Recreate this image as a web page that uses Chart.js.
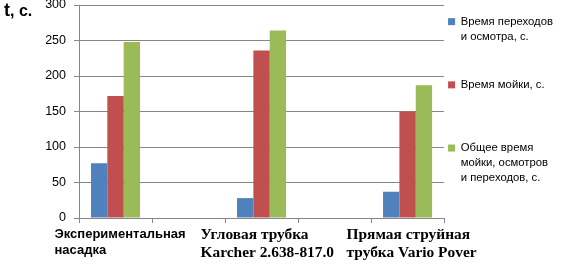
<!DOCTYPE html>
<html>
<head>
<meta charset="utf-8">
<script src="https://cdn.jsdelivr.net/npm/chart.js@4"></script>
<style>
  body { margin: 0; background: #fff; }
  #wrap { position: relative; width: 563px; height: 268px; }
  #ytitle { position: absolute; left: 4px; top: 0px; font-family: "Liberation Sans", Arial, sans-serif; font-weight: bold; color: #000; }
</style>
</head>
<body>
<div id="wrap">
  <canvas id="barchart"></canvas>
  <div id="ytitle"><span style="font-size:18px">t</span><span style="font-size:16px">, с.</span></div>
</div>
<script>
// categories (empty slots between the groups, as in the original sheet)
var categories = [
    ['Экспериментальная', 'насадка'],
    '',
    ['Угловая трубка', 'Karcher 2.638-817.0'],
    '',
    ['Прямая струйная', 'трубка Vario Pover']
];
var seriesNames = [
    ['Время переходов', 'и осмотра, с.'],
    ['Время мойки, с.'],
    ['Общее время', 'мойки, осмотров', 'и переходов, с.']
];
var moveTime = [77, null, 28, null, 37];
var washTime = [172, null, 236, null, 150];
var totalTime = [248, null, 264, null, 187];
var yTicks = [0, 50, 100, 150, 200, 250, 300];

var barColors = ["#4F81BD", "#C0504D", "#9BBB59"];
var gridColor = "#868686";

const values = [moveTime, washTime, totalTime];
const datasets = [];
for (let i = 0; i < values.length; i++) {
    datasets.push({
        label: seriesNames[i],
        data: values[i],
        backgroundColor: barColors[i],
        borderWidth: 0,
        barPercentage: 1,
        categoryPercentage: 0.672
    });
}

new Chart("barchart", {
    type: 'bar',
    data: {
        labels: categories,
        datasets: datasets
    },
    options: {
        responsive: true,
        maintainAspectRatio: false,
        animation: false,
        layout: {
            padding: { left: 45, right: 0, top: 0, bottom: 0 }
        },
        plugins: {
            tooltip: { enabled: false },
            legend: {
                position: 'right',
                align: 'start',
                title: { display: true, text: '', font: { size: 10, lineHeight: '12px' } },
                labels: {
                    boxWidth: 7,
                    boxHeight: 7,
                    padding: 4,
                    color: '#000',
                    font: { family: 'Liberation Sans', size: 11.3, lineHeight: '14.8px' },
                    generateLabels: function (chart) {
                        const items = Chart.defaults.plugins.legend.labels.generateLabels(chart);
                        items.forEach(function (item) {
                            const lines = [].concat(item.text);
                            while (lines.length < 4 && item.datasetIndex < 2) lines.push('');
                            item.text = lines;
                            item.lineWidth = 0;
                        });
                        return items;
                    }
                }
            }
        },
        scales: {
            x: {
                grid: {
                    display: true,
                    drawOnChartArea: false,
                    drawTicks: true,
                    tickLength: 5,
                    color: gridColor
                },
                border: { display: true, color: gridColor },
                afterFit: function (scale) {
                    scale.height = 50;
                    scale.paddingLeft = 0;
                    scale.paddingRight = 0;
                },
                ticks: {
                    autoSkip: false,
                    maxRotation: 0,
                    minRotation: 0,
                    align: 'start',
                    labelOffset: -61,
                    padding: 3,
                    color: '#000',
                    font: function (ctx) {
                        if (ctx.index === 0) {
                            return { family: 'Liberation Sans', size: 13, weight: 'bold', lineHeight: '16px' };
                        }
                        return { family: 'Liberation Serif', size: 15.4, weight: 'bold', lineHeight: '18px' };
                    }
                }
            },
            y: {
                min: 0,
                max: 300,
                afterBuildTicks: function (scale) {
                    scale.ticks = yTicks.map(function (v) { return { value: v }; });
                },
                afterFit: function (scale) {
                    scale.width = 34;
                    scale.paddingTop = 5;
                    scale.paddingBottom = 0;
                },
                grid: {
                    color: gridColor,
                    tickLength: 5
                },
                border: { display: true, color: gridColor },
                ticks: {
                    padding: 8,
                    color: '#000',
                    font: { family: 'Liberation Sans', size: 12.5 }
                }
            }
        }
    }
});
</script>
</body>
</html>
